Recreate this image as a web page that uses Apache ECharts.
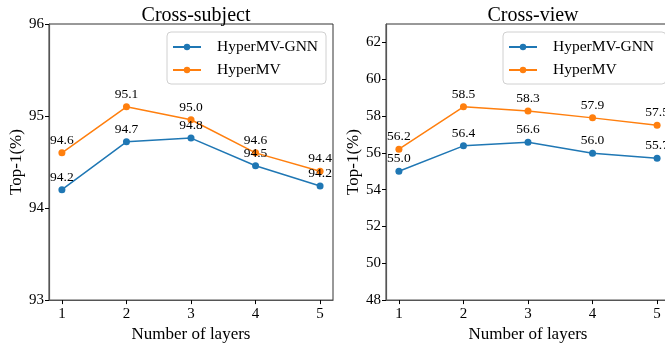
<!DOCTYPE html>
<html>
<head>
<meta charset="utf-8">
<script src="https://cdn.jsdelivr.net/npm/echarts@6/dist/echarts.min.js"></script>
<style>
html,body{margin:0;padding:0;background:#fff;overflow:hidden;width:665px;height:348px;}
#c{width:680px;height:348px;}
</style>
</head>
<body>
<div id="c"></div>
<script>
var layers = [1, 2, 3, 4, 5];
var subjGNN = [94.2, 94.72, 94.76, 94.46, 94.24];
var subjMV = [94.6, 95.1, 94.96, 94.6, 94.4];
var viewGNN = [55.0, 56.38, 56.58, 55.98, 55.7];
var viewMV = [56.2, 58.5, 58.28, 57.9, 57.5];
var subjTicks = [93, 94, 95, 96];
var viewTicks = [48, 50, 52, 54, 56, 58, 60, 62];
var titles = ['Cross-subject', 'Cross-view'];
var seriesNames = ['HyperMV-GNN', 'HyperMV'];

var FONT = '"Liberation Serif", "DejaVu Serif", serif';
var BLUE = '#1f77b4', ORANGE = '#ff7f0e';

function pairs(xs, ys) { return xs.map(function (x, i) { return [x, ys[i]]; }); }

function mkSeries(name, data, color, idx) {
  return {
    name: name, type: 'line', xAxisIndex: idx, yAxisIndex: idx,
    data: pairs(layers, data),
    symbol: 'circle', symbolSize: 7,
    lineStyle: { color: color, width: 1.5 },
    itemStyle: { color: color },
    label: {
      show: true, position: 'top', distance: 2,
      color: '#000', fontFamily: FONT, fontSize: 13.5,
      formatter: function (p) { return p.value[1].toFixed(1); }
    },
    emphasis: { disabled: true },
    animation: false, z: idx
  };
}

function mkX(idx) {
  return {
    gridIndex: idx, type: 'value', min: 0.8, max: 5.2,
    name: 'Number of layers', nameLocation: 'middle', nameGap: 23,
    nameTextStyle: { fontFamily: FONT, fontSize: 17, color: '#000' },
    axisLine: { show: true, lineStyle: { color: '#555', width: 1.2 } },
    axisTick: { show: true, length: 4, customValues: layers, lineStyle: { color: '#000' } },
    axisLabel: { customValues: layers, fontFamily: FONT, fontSize: 15, color: '#000', margin: 6 },
    splitLine: { show: false }
  };
}

function mkY(idx, min, max, ticks, gap) {
  return {
    gridIndex: idx, type: 'value', min: min, max: max,
    name: 'Top-1(%)', nameLocation: 'middle', nameRotate: 90, nameGap: gap,
    nameTextStyle: { fontFamily: FONT, fontSize: 17, color: '#000' },
    axisLine: { show: true, lineStyle: { color: '#555', width: 1.2 } },
    axisTick: { show: true, length: 4, customValues: ticks, lineStyle: { color: '#000' } },
    axisLabel: { customValues: ticks, fontFamily: FONT, fontSize: 15, color: '#000', margin: 5 },
    splitLine: { show: false }
  };
}

function mkLegend(idx, left) {
  return {
    show: true, orient: 'vertical', left: left, top: 32,
    data: seriesNames.map(function (n) { return idx === 0 ? n : n + ' '; }),
    itemWidth: 28, itemHeight: 8, itemGap: 7,
    padding: [7, 8, 6, 5],
    backgroundColor: '#fff', borderColor: '#d0d0d0', borderWidth: 1, borderRadius: 4,
    textStyle: { fontFamily: FONT, fontSize: 15.5, color: '#000', padding: [0, 0, 0, 11] },
    selectedMode: false
  };
}

var chart = echarts.init(document.getElementById('c'), null, { renderer: 'canvas' });
var s0 = [mkSeries(seriesNames[0], subjGNN, BLUE, 0), mkSeries(seriesNames[1], subjMV, ORANGE, 0)];
var s1 = [mkSeries(seriesNames[0] + ' ', viewGNN, BLUE, 1), mkSeries(seriesNames[1] + ' ', viewMV, ORANGE, 1)];

chart.setOption({
  animation: false,
  backgroundColor: '#fff',
  title: [
    { text: titles[0], left: 191, top: 1, textAlign: 'center', textStyle: { fontFamily: FONT, fontSize: 20, fontWeight: 'normal', color: '#000' } },
    { text: titles[1], left: 528, top: 1, textAlign: 'center', textStyle: { fontFamily: FONT, fontSize: 20, fontWeight: 'normal', color: '#000' } }
  ],
  grid: [
    { left: 49, top: 24, width: 284, height: 281, show: true, borderColor: '#333', borderWidth: 1, backgroundColor: 'transparent' },
    { left: 386, top: 24, width: 284, height: 281, show: true, borderColor: '#333', borderWidth: 1, backgroundColor: 'transparent' }
  ],
  legend: [mkLegend(0, 167), mkLegend(1, 503)],
  xAxis: [mkX(0), mkX(1)],
  yAxis: [mkY(0, 93, 96, subjTicks, 24), mkY(1, 48, 63, viewTicks, 24)],
  series: s0.concat(s1)
});
</script>
</body>
</html>
